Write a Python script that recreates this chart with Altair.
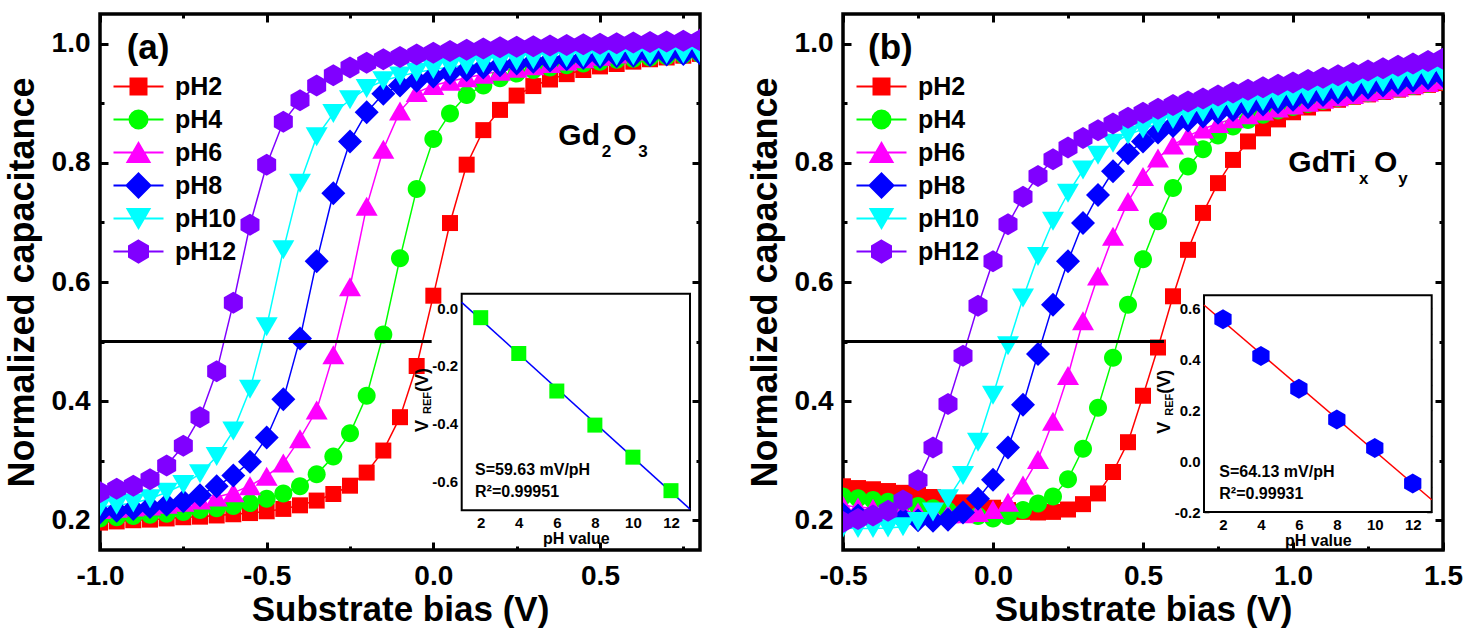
import altair as alt
import pandas as pd

FONT = "Liberation Sans"
W, H = 600, 536

SERIES = ["pH2", "pH4", "pH6", "pH8", "pH10", "pH12"]
COLORS = ["#ff0000", "#00ff00", "#ff00ff", "#0000ff", "#00ffff", "#8000ff"]

# ---------------- panel (a) data: Gd2O3 ----------------
VA = [-1.0, -0.95, -0.9, -0.85, -0.8, -0.75, -0.7, -0.65, -0.6, -0.55, -0.5, -0.45, -0.4,
      -0.35, -0.3, -0.25, -0.2, -0.15, -0.1, -0.05, 0.0, 0.05, 0.1, 0.15, 0.2, 0.25, 0.3,
      0.35, 0.4, 0.45, 0.5, 0.55, 0.6, 0.65, 0.7, 0.75, 0.8]
A_PH2 = [0.196, 0.198, 0.2, 0.201, 0.203, 0.205, 0.206, 0.208, 0.21, 0.212, 0.215, 0.219, 0.225,
         0.233, 0.244, 0.258, 0.28, 0.317, 0.373, 0.459, 0.577, 0.699, 0.797, 0.855, 0.889, 0.913,
         0.929, 0.94, 0.949, 0.956, 0.962, 0.966, 0.97, 0.974, 0.977, 0.98, 0.983]
A_PH4 = [0.203, 0.205, 0.207, 0.209, 0.211, 0.214, 0.217, 0.22, 0.224, 0.229, 0.236, 0.245, 0.257,
         0.277, 0.307, 0.346, 0.409, 0.512, 0.64, 0.756, 0.84, 0.883, 0.914, 0.93, 0.942, 0.95,
         0.956, 0.96, 0.964, 0.967, 0.97, 0.973, 0.975, 0.977, 0.979, 0.981, 0.983]
A_PH6 = [0.218, 0.22, 0.222, 0.224, 0.227, 0.23, 0.234, 0.239, 0.246, 0.258, 0.274, 0.296, 0.337,
         0.385, 0.478, 0.592, 0.727, 0.823, 0.887, 0.918, 0.93, 0.937, 0.943, 0.949, 0.954, 0.959,
         0.963, 0.967, 0.971, 0.975, 0.979, 0.983, 0.988, 0.993, 0.998, 1.004, 1.01]
A_PH8 = [0.213, 0.216, 0.219, 0.222, 0.226, 0.232, 0.242, 0.257, 0.275, 0.298, 0.339, 0.403, 0.505,
         0.635, 0.749, 0.836, 0.885, 0.916, 0.93, 0.938, 0.945, 0.951, 0.956, 0.96, 0.964, 0.967,
         0.97, 0.972, 0.974, 0.976, 0.978, 0.979, 0.98, 0.981, 0.982, 0.983, 0.984]
A_PH10 = [0.222, 0.225, 0.229, 0.236, 0.247, 0.26, 0.278, 0.307, 0.35, 0.42, 0.525, 0.654, 0.766,
          0.844, 0.883, 0.906, 0.925, 0.938, 0.946, 0.952, 0.957, 0.961, 0.964, 0.967, 0.969, 0.971,
          0.973, 0.975, 0.976, 0.977, 0.978, 0.979, 0.98, 0.981, 0.982, 0.983, 0.984]
A_PH12 = [0.247, 0.253, 0.258, 0.269, 0.292, 0.325, 0.373, 0.45, 0.565, 0.696, 0.797, 0.869, 0.905,
          0.93, 0.947, 0.96, 0.968, 0.974, 0.978, 0.982, 0.985, 0.988, 0.99, 0.992, 0.994, 0.995,
          0.996, 0.997, 0.998, 0.999, 1.0, 1.001, 1.002, 1.003, 1.004, 1.005, 1.006]

# ---------------- panel (b) data: GdTixOy ----------------
VB = [-0.5, -0.45, -0.4, -0.35, -0.3, -0.25, -0.2, -0.15, -0.1, -0.05, 0.0, 0.05, 0.1, 0.15, 0.2,
      0.25, 0.3, 0.35, 0.4, 0.45, 0.5, 0.55, 0.6, 0.65, 0.7, 0.75, 0.8, 0.85, 0.9, 0.95, 1.0, 1.05,
      1.1, 1.15, 1.2, 1.25, 1.3, 1.35, 1.4, 1.45, 1.5]
B_PH2 = [0.257, 0.254, 0.252, 0.249, 0.246, 0.243, 0.239, 0.235, 0.23, 0.226, 0.221, 0.217, 0.214,
         0.213, 0.214, 0.218, 0.227, 0.245, 0.281, 0.331, 0.409, 0.49, 0.576, 0.654, 0.716, 0.766,
         0.805, 0.836, 0.858, 0.873, 0.885, 0.893, 0.9, 0.906, 0.911, 0.915, 0.919, 0.923, 0.927,
         0.931, 0.934]
B_PH4 = [0.24, 0.237, 0.234, 0.231, 0.228, 0.224, 0.22, 0.216, 0.212, 0.207, 0.203, 0.207, 0.217,
         0.228, 0.24, 0.269, 0.32, 0.389, 0.473, 0.562, 0.638, 0.702, 0.758, 0.794, 0.823, 0.846,
         0.861, 0.872, 0.881, 0.888, 0.894, 0.899, 0.904, 0.909, 0.913, 0.917, 0.921, 0.925, 0.929,
         0.933, 0.937]
B_PH6 = [0.225, 0.222, 0.22, 0.218, 0.216, 0.214, 0.212, 0.211, 0.211, 0.213, 0.218, 0.23, 0.259,
         0.302, 0.366, 0.443, 0.535, 0.61, 0.677, 0.735, 0.777, 0.808, 0.83, 0.845, 0.857, 0.866,
         0.874, 0.881, 0.887, 0.892, 0.897, 0.902, 0.907, 0.911, 0.915, 0.919, 0.923, 0.927, 0.931,
         0.935, 0.939]
B_PH8 = [0.21, 0.208, 0.206, 0.204, 0.202, 0.2, 0.199, 0.201, 0.213, 0.236, 0.268, 0.322, 0.394,
         0.479, 0.562, 0.635, 0.699, 0.746, 0.786, 0.816, 0.836, 0.851, 0.862, 0.871, 0.878, 0.884,
         0.889, 0.894, 0.898, 0.902, 0.906, 0.91, 0.914, 0.918, 0.922, 0.926, 0.93, 0.934, 0.938,
         0.942, 0.946]
B_PH10 = [0.187, 0.186, 0.186, 0.187, 0.189, 0.198, 0.214, 0.236, 0.275, 0.331, 0.41, 0.493, 0.573,
          0.643, 0.702, 0.749, 0.788, 0.813, 0.833, 0.847, 0.857, 0.866, 0.873, 0.879, 0.885, 0.89,
          0.895, 0.899, 0.903, 0.907, 0.911, 0.915, 0.919, 0.923, 0.927, 0.931, 0.935, 0.939, 0.943,
          0.947, 0.951]
B_PH12 = [0.197, 0.202, 0.208, 0.216, 0.233, 0.267, 0.322, 0.395, 0.476, 0.56, 0.635, 0.697, 0.743,
          0.778, 0.806, 0.826, 0.842, 0.855, 0.866, 0.876, 0.884, 0.891, 0.897, 0.903, 0.908, 0.913,
          0.918, 0.923, 0.927, 0.931, 0.935, 0.939, 0.943, 0.947, 0.951, 0.955, 0.959, 0.963, 0.967,
          0.971, 0.975]

# ---------------- axes / reference line ----------------
Y_DOMAIN = [0.15, 1.05]
Y_MAJOR = [0.2, 0.4, 0.6, 0.8, 1.0]
Y_MINOR = [0.3, 0.5, 0.7, 0.9]
A_XDOM = [-1.0, 0.8]
A_XMAJ = [-1.0, -0.5, 0.0, 0.5]
A_XMIN = [-0.75, -0.25, 0.25, 0.75]
B_XDOM = [-0.5, 1.5]
B_XMAJ = [-0.5, 0.0, 0.5, 1.0, 1.5]
B_XMIN = [-0.25, 0.25, 0.75, 1.25]
HLINE_Y = 0.5
A_HLINE_X = [-1.0, -0.005]
B_HLINE_X = [-0.5, 0.57]

# ---------------- insets ----------------
INSET_PH = [2, 4, 6, 8, 10, 12]
INSET_XDOM = [1, 13]
INSET_XMAJ = [2, 4, 6, 8, 10, 12]
INSET_XMIN = [3, 5, 7, 9, 11]
A_VREF = [-0.033, -0.157, -0.287, -0.405, -0.516, -0.632]
A_FIT_X = [1, 13]
A_FIT_Y = [0.020, -0.696]
A_IYDOM = [-0.7, 0.05]
A_IYMAJ = [-0.6, -0.4, -0.2, 0.0]
A_IYMIN = [-0.5, -0.3, -0.1]
B_VREF = [0.556, 0.412, 0.283, 0.163, 0.051, -0.088]
B_FIT_X = [1, 13]
B_FIT_Y = [0.612, -0.152]
B_IYDOM = [-0.2, 0.65]
B_IYMAJ = [-0.2, 0.0, 0.2, 0.4, 0.6]
B_IYMIN = [-0.1, 0.1, 0.3, 0.5]

# ---------------- marker shapes ----------------
SQ = "M-0.8,-0.8H0.8V0.8H-0.8Z"
CI = "M0.9,0A0.9,0.9,0,1,1,-0.9,0A0.9,0.9,0,1,1,0.9,0Z"
TU = "M0,-0.95L1.1,0.95L-1.1,0.95Z"
DI = "M0,-1.2L1.2,0L0,1.2L-1.2,0Z"
TD = "M0,0.95L1.1,-0.95L-1.1,-0.95Z"
HX = "M0,-1.1L0.95,-0.55L0.95,0.55L0,1.1L-0.95,0.55L-0.95,-0.55Z"
SHAPES = [SQ, CI, TU, DI, TD, HX]
LEG_SHAPES = ["M-2.5,0H2.5" + s for s in SHAPES]

LBL1 = "(datum.value < 0 ? '-' : '') + format(abs(datum.value), '.1f')"
LEG_X, LEG_Y = 26, 60


def sc(domain, rng=None):
    if rng is None:
        return alt.Scale(domain=domain, nice=False, zero=False)
    return alt.Scale(domain=domain, range=rng, nice=False, zero=False)


def tick_axis(orient, offset, values, step, big, small, width):
    test = f"abs(datum.value / {step} - round(datum.value / {step})) < 0.001"
    return alt.Axis(orient=orient, offset=offset, values=values, labels=False, domain=False,
                    grid=False, title=None, ticks=True, tickColor="black", tickWidth=width,
                    tickSize={"condition": {"test": test, "value": big}, "value": small})


def host(data, xf, yf, xs, ys, xaxis, yaxis):
    return (alt.Chart(data).transform_filter("false").mark_point()
            .encode(x=alt.X(f"{xf}:Q", scale=xs, axis=xaxis),
                    y=alt.Y(f"{yf}:Q", scale=ys, axis=yaxis)))


def label(text, x, y, size, angle=None):
    kw = dict(text=text, font=FONT, fontWeight="bold", fontSize=size, color="black",
              align="left", baseline="alphabetic")
    if angle is not None:
        kw["angle"] = angle
    return (alt.Chart(pd.DataFrame({"k": [0]})).mark_text(**kw)
            .encode(x=alt.value(x), y=alt.value(y)))


def build_df(V, vals):
    rows = []
    for s, ys in zip(SERIES, vals):
        assert len(ys) == len(V), (s, len(ys), len(V))
        for v, c in zip(V, ys):
            rows.append({"V": v, "C": c, "pH": s})
    return pd.DataFrame(rows)


def legend_def():
    return alt.Legend(orient="none", legendX=LEG_X, legendY=LEG_Y, title=None, padding=0,
                      labelFont=FONT, labelFontSize=25, labelFontWeight="bold",
                      labelColor="black", labelOffset=24, labelLimit=0, symbolSize=400,
                      symbolStrokeWidth=2, rowPadding=0, gridAlign="all",
                      direction="vertical")


def panel(p):
    df = build_df(p["V"], p["vals"])
    xs = sc(p["xdom"])
    ys = sc(Y_DOMAIN)
    xticks = sorted(p["xmaj"] + p["xmin"])
    yticks = sorted(Y_MAJOR + Y_MINOR)
    cscale = alt.Scale(domain=SERIES, range=COLORS)

    x_lab = alt.Axis(orient="bottom", values=p["xmaj"], labelExpr=LBL1, labelFont=FONT,
                     labelFontSize=28, labelFontWeight="bold", labelColor="black",
                     labelPadding=12, labelFlush=False, labelOverlap=False, ticks=False,
                     tickSize=0, domain=False, grid=False, title="Substrate bias (V)",
                     titleFont=FONT, titleFontSize=35, titleFontWeight="bold",
                     titleColor="black", titlePadding=2)
    y_lab = alt.Axis(orient="left", values=Y_MAJOR, labelExpr=LBL1, labelFont=FONT,
                     labelFontSize=28, labelFontWeight="bold", labelColor="black",
                     labelPadding=10, labelFlush=False, labelOverlap=False, ticks=False,
                     tickSize=0, domain=False, grid=False, title="Normalized capacitance",
                     titleFont=FONT, titleFontSize=36, titleFontWeight="bold",
                     titleColor="black", titlePadding=10)

    lines = alt.Chart(df).mark_line(strokeWidth=1.5, clip=True).encode(
        x=alt.X("V:Q", scale=xs, axis=x_lab),
        y=alt.Y("C:Q", scale=ys, axis=y_lab),
        color=alt.Color("pH:N", scale=cscale, legend=None),
        detail="pH:N")
    pts = alt.Chart(df).mark_point(filled=True, opacity=1, size=400, clip=True).encode(
        x=alt.X("V:Q", scale=xs, axis=None),
        y=alt.Y("C:Q", scale=ys, axis=None),
        color=alt.Color("pH:N", scale=cscale, legend=None),
        shape=alt.Shape("pH:N", scale=alt.Scale(domain=SERIES, range=SHAPES), legend=None))
    hdf = pd.DataFrame({"V": p["hline_x"], "C": [HLINE_Y, HLINE_Y]})
    hline = alt.Chart(hdf).mark_line(color="black", strokeWidth=3).encode(
        x=alt.X("V:Q", scale=xs, axis=None), y=alt.Y("C:Q", scale=ys, axis=None))
    host_a = host(df, "V", "C", xs, ys,
                  tick_axis("top", -H, xticks, 0.5, 8, 4, 3),
                  tick_axis("right", -W, yticks, 0.2, 8, 4, 3))
    host_b = host(df, "V", "C", xs, ys,
                  tick_axis("bottom", -H, xticks, 0.5, 8, 4, 3),
                  tick_axis("left", -W, yticks, 0.2, 8, 4, 3))

    # inset
    x0, x1, yb, yt = p["box"]
    ixs = sc(INSET_XDOM, [x0, x1])
    iys = sc(p["iydom"], [yb, yt])
    idf = pd.DataFrame({"P": INSET_PH, "R": p["vref"]})
    bdf = pd.DataFrame({"P": [INSET_XDOM[0]], "P2": [INSET_XDOM[1]],
                        "R": [p["iydom"][0]], "R2": [p["iydom"][1]]})
    ix_lab = alt.Axis(orient="bottom", offset=yb - H, values=INSET_XMAJ, format="d",
                      labelFont=FONT, labelFontSize=15, labelFontWeight="bold",
                      labelColor="black", labelPadding=5, labelFlush=False, ticks=False,
                      tickSize=0, domain=False, grid=False, title="pH value", titleFont=FONT,
                      titleFontSize=16, titleFontWeight="bold", titleColor="black",
                      titlePadding=0)
    iy_lab = alt.Axis(orient="left", offset=-x0, values=p["iymaj"], labelExpr=LBL1,
                      labelFont=FONT, labelFontSize=15, labelFontWeight="bold",
                      labelColor="black", labelPadding=4, labelFlush=False, ticks=False,
                      tickSize=0, domain=False, grid=False, title=None)
    box = alt.Chart(bdf).mark_rect(fill="white", stroke="black", strokeWidth=2).encode(
        x=alt.X("P:Q", scale=ixs, axis=ix_lab), x2="P2:Q",
        y=alt.Y("R:Q", scale=iys, axis=iy_lab), y2="R2:Q")
    ixt = sorted(INSET_XMAJ + INSET_XMIN)
    iyt = sorted(p["iymaj"] + p["iymin"])
    ihost_a = host(idf, "P", "R", ixs, iys,
                   tick_axis("top", -yb, ixt, 2, 5, 3, 1.5),
                   tick_axis("right", x0 - W, iyt, 0.2, 5, 3, 1.5))
    ihost_b = host(idf, "P", "R", ixs, iys,
                   tick_axis("bottom", yt - H, ixt, 2, 5, 3, 1.5),
                   tick_axis("left", -x1, iyt, 0.2, 5, 3, 1.5))
    fdf = pd.DataFrame({"P": p["fit_x"], "R": p["fit_y"]})
    fit = alt.Chart(fdf).mark_line(color=p["fit_color"], strokeWidth=1.5).encode(
        x=alt.X("P:Q", scale=ixs, axis=None), y=alt.Y("R:Q", scale=iys, axis=None))
    ipts = alt.Chart(idf).mark_point(filled=True, opacity=1, shape=p["ishape"],
                                     size=p["isize"], color=p["icolor"]).encode(
        x=alt.X("P:Q", scale=ixs, axis=None), y=alt.Y("R:Q", scale=iys, axis=None))

    texts = [label(*t) for t in p["texts"]]

    ld = legend_def()
    leg = alt.Chart(df).transform_filter("false").mark_point(
        filled=True, opacity=1, size=400, strokeWidth=2).encode(
        x=alt.X("V:Q", scale=xs, axis=None),
        y=alt.Y("C:Q", scale=ys, axis=None),
        shape=alt.Shape("pH:N", scale=alt.Scale(domain=SERIES, range=LEG_SHAPES), legend=ld),
        fill=alt.Fill("pH:N", scale=alt.Scale(domain=SERIES, range=COLORS), legend=ld),
        stroke=alt.Stroke("pH:N", scale=alt.Scale(domain=SERIES, range=COLORS), legend=ld))

    layers = [lines, pts, hline, host_a, host_b, box, ihost_a, ihost_b, fit, ipts] + texts + [leg]
    return (alt.layer(*layers)
            .resolve_scale(x="independent", y="independent", color="independent",
                           shape="independent", fill="independent", stroke="independent")
            .properties(width=W, height=H))


PA = dict(V=VA, vals=[A_PH2, A_PH4, A_PH6, A_PH8, A_PH10, A_PH12], xdom=A_XDOM, xmaj=A_XMAJ,
          xmin=A_XMIN, hline_x=A_HLINE_X, box=(361.7, 590.0, 496.3, 279.7), iydom=A_IYDOM,
          iymaj=A_IYMAJ, iymin=A_IYMIN, vref=A_VREF, fit_x=A_FIT_X, fit_y=A_FIT_Y,
          fit_color="#0000ff", ishape="square", isize=225, icolor="#00ff00",
          texts=[("(a)", 26.7, 45, 35),
                 ("Gd", 458.3, 131.3, 30), ("2", 501.7, 143, 17),
                 ("O", 513.3, 131.3, 30), ("3", 538.3, 143, 17),
                 ("S=59.63 mV/pH", 375, 460.7, 16), ("R\u00b2=0.99951", 375, 483, 16),
                 ("V", 327.5, 418, 18, 270), ("REF", 331, 400, 11, 270),
                 ("(V)", 327.5, 378, 18, 270)])
PB = dict(V=VB, vals=[B_PH2, B_PH4, B_PH6, B_PH8, B_PH10, B_PH12], xdom=B_XDOM, xmaj=B_XMAJ,
          xmin=B_XMIN, hline_x=B_HLINE_X, box=(361.0, 588.7, 498.0, 281.3), iydom=B_IYDOM,
          iymaj=B_IYMAJ, iymin=B_IYMIN, vref=B_VREF, fit_x=B_FIT_X, fit_y=B_FIT_Y,
          fit_color="#ff0000", ishape=HX, isize=331, icolor="#0000ff",
          texts=[("(b)", 25, 45, 35),
                 ("GdTi", 445.3, 158, 30), ("x", 516, 170, 17),
                 ("O", 531, 158, 30), ("y", 555.3, 170, 17),
                 ("S=64.13 mV/pH", 376.3, 463, 16), ("R\u00b2=0.99931", 376.3, 484.7, 16),
                 ("V", 326.8, 419.7, 18, 270), ("REF", 330.3, 401.7, 11, 270),
                 ("(V)", 326.8, 379.7, 18, 270)])

chart = (alt.hconcat(panel(PA), panel(PB), spacing=143, bounds="flush")
         .resolve_scale(color="independent", shape="independent", fill="independent",
                        stroke="independent")
         .properties(padding={"left": 2, "top": 10, "right": 0, "bottom": 0})
         .configure_view(stroke="black", strokeWidth=3.5))

chart.save("out.html", embed_options={"renderer": "svg", "actions": False})
